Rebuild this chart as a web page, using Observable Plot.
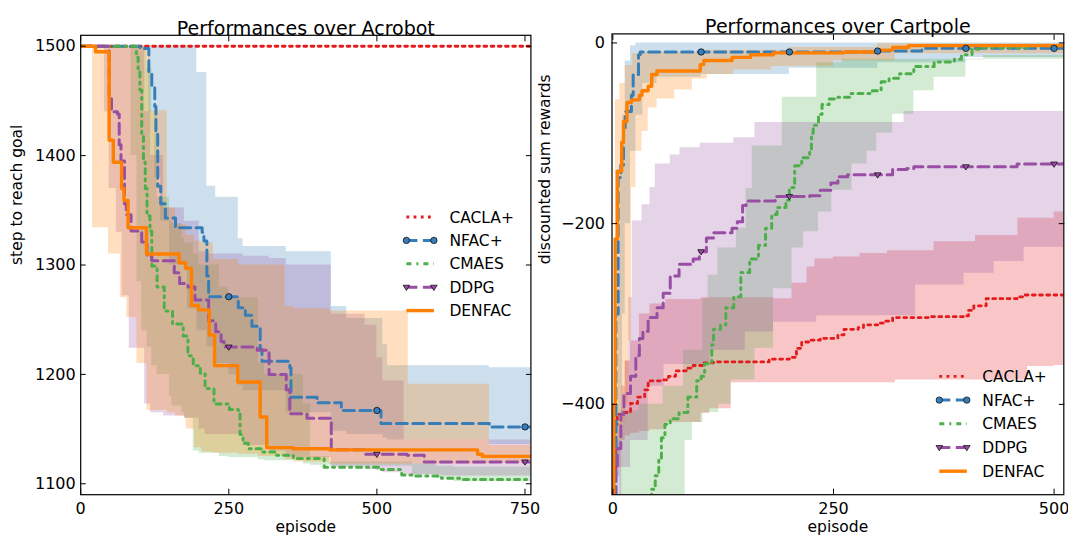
<!DOCTYPE html>
<html><head><meta charset="utf-8">
<script src="https://cdn.jsdelivr.net/npm/d3@7"></script>
<script src="https://cdn.jsdelivr.net/npm/@observablehq/plot@0.6"></script>
<style>
html,body{margin:0;padding:0;background:#fff;}
#wrap{display:flex;width:1068px;height:540px;background:#fff;}
#wrap svg{overflow:visible;}
</style></head><body><div id="wrap"></div>
<script>
// ================= DATA =================
const algoNames = ["CACLA+", "NFAC+", "CMAES", "DDPG", "DENFAC"];

// ---- Acrobot ----
const acroXTicks = [0, 250, 500, 750];
const acroYTicks = [1100, 1200, 1300, 1400, 1500];
const acroMarkerEpisodes = [250, 500, 750];

const acroCaclaX = [0, 760];
const acroCaclaY = [1500, 1500];

const acroNfacX = [0, 100, 115, 120, 125, 127, 130, 135, 143, 160, 205, 208, 213, 216, 266, 278, 289, 303, 306, 353, 355, 399, 440, 507, 690, 760];
const acroNfacY = [1500, 1498, 1475, 1462, 1445, 1420, 1372, 1356, 1343, 1334, 1330, 1322, 1290, 1271, 1261, 1254, 1244, 1223, 1212, 1206, 1179, 1174, 1167, 1155, 1152, 1152];
const acroNfacBandX = [0, 100, 115, 125, 135, 150, 180, 196, 213, 228, 250, 266, 274, 347, 423, 449, 510, 518, 690, 760];
const acroNfacHi = [1500, 1500, 1500, 1500, 1500, 1500, 1500, 1476, 1372, 1362, 1362, 1324, 1317, 1312, 1262, 1251, 1227, 1208, 1206, 1206];
const acroNfacLo = [1500, 1500, 1440, 1380, 1340, 1300, 1260, 1240, 1225, 1210, 1200, 1190, 1185, 1165, 1148, 1145, 1142, 1140, 1136, 1136];

const acroCmaesX = [0, 94, 97, 100, 103, 106, 109, 112, 117, 120, 129, 141, 155, 173, 181, 190, 202, 210, 225, 251, 266, 269, 274, 283, 306, 330, 359, 411, 504, 542, 562, 609, 644, 760];
const acroCmaesY = [1500, 1490, 1479, 1460, 1420, 1394, 1370, 1345, 1331, 1299, 1280, 1258, 1246, 1235, 1217, 1208, 1201, 1187, 1173, 1168, 1167, 1145, 1137, 1132, 1129, 1126, 1123, 1115, 1113, 1108, 1107, 1105, 1104, 1104];
const acroCmaesBandX = [0, 85, 95, 103, 112, 120, 129, 150, 154, 171, 175, 190, 200, 234, 250, 300, 310, 376, 388, 420, 560, 600, 630, 760];
const acroCmaesHi = [1500, 1500, 1500, 1500, 1480, 1440, 1362, 1340, 1338, 1325, 1320, 1310, 1300, 1280, 1270, 1210, 1200, 1173, 1125, 1120, 1118, 1116, 1115, 1115];
const acroCmaesLo = [1500, 1400, 1285, 1240, 1225, 1208, 1200, 1180, 1171, 1165, 1160, 1130, 1128, 1125, 1124, 1122, 1121, 1118, 1117, 1116, 1108, 1105, 1102, 1102];

const acroDdpgX = [0, 48, 52, 62, 65, 68, 74, 77, 85, 103, 112, 120, 158, 167, 181, 193, 216, 228, 237, 242, 298, 318, 347, 353, 382, 423, 481, 551, 580, 760];
const acroDdpgY = [1500, 1452, 1440, 1438, 1410, 1395, 1356, 1346, 1331, 1321, 1308, 1304, 1293, 1283, 1280, 1268, 1249, 1239, 1230, 1225, 1222, 1200, 1186, 1164, 1160, 1131, 1127, 1126, 1120, 1120];
const acroDdpgBandX = [0, 40, 48, 60, 70, 82, 108, 118, 140, 175, 200, 210, 274, 318, 347, 423, 480, 500, 510, 546, 610, 760];
const acroDdpgHi = [1500, 1500, 1500, 1500, 1500, 1500, 1440, 1400, 1352, 1340, 1312, 1310, 1308, 1306, 1300, 1255, 1245, 1215, 1194, 1140, 1140, 1140];
const acroDdpgLo = [1500, 1440, 1370, 1330, 1272, 1224, 1173, 1165, 1162, 1160, 1150, 1145, 1135, 1130, 1124, 1115, 1113, 1112, 1110, 1108, 1107, 1107];

const acroDenfacX = [0, 25, 48, 55, 69, 73, 80, 111, 166, 177, 187, 199, 217, 226, 265, 303, 314, 359, 420, 670, 678, 760];
const acroDenfacY = [1500, 1495, 1414, 1394, 1370, 1359, 1334, 1310, 1302, 1297, 1263, 1259, 1236, 1208, 1193, 1161, 1133, 1132, 1131, 1127, 1125, 1125];
const acroDenfacBandX = [0, 20, 47, 67, 78, 95, 112, 117, 146, 160, 178, 192, 204, 206, 224, 266, 300, 345, 360, 420, 553, 680, 690, 760];
const acroDenfacHi = [1500, 1500, 1500, 1500, 1500, 1500, 1500, 1441, 1352, 1337, 1327, 1322, 1320, 1320, 1305, 1300, 1300, 1262, 1260, 1258, 1191, 1191, 1135, 1135];
const acroDenfacLo = [1500, 1334, 1310, 1270, 1252, 1210, 1167, 1167, 1165, 1162, 1150, 1133, 1130, 1129, 1128, 1127, 1125, 1122, 1120, 1118, 1118, 1118, 1119, 1119];

// ---- Cartpole ----
const cartXTicks = [0, 250, 500];
const cartYTicks = [-400, -200, 0];
const cartMarkerEpisodes = [100, 200, 300, 400, 500];

const cartCaclaX = [0, 1.5, 3, 5, 12.5, 20, 28, 36, 40, 55, 63, 71, 83, 91, 102, 114, 177, 200, 208, 214, 223, 235, 255, 262, 278, 284, 302, 309, 317, 360, 399, 403, 409, 423, 458, 466, 511];
const cartCaclaY = [-500, -479, -422, -411, -409, -399, -392, -384, -374, -373, -369, -363, -360, -357, -354, -353, -350, -348, -338, -331, -329, -327, -323, -317, -315, -312, -310, -308, -304, -303, -302, -296, -291, -283, -281, -279, -277];
const cartCaclaBandX = [0, 5, 10, 14, 20, 30, 42, 60, 100, 110, 134, 182, 203, 220, 229, 250, 280, 311, 320, 364, 411, 459, 470, 500, 511];
const cartCaclaHi = [-500, -420, -380, -352, -330, -300, -289, -284, -282, -282, -282, -283, -266, -248, -239, -237, -233, -230, -230, -220, -213, -194, -194, -187, -187];
const cartCaclaLo = [-500, -470, -440, -435, -432, -430, -428, -420, -410, -405, -376, -376, -376, -376, -376, -376, -376, -376, -373, -373, -373, -373, -358, -357, -357];

const cartNfacX = [0, 3.5, 6, 9, 12, 14, 21, 23, 29, 31, 300, 350, 511];
const cartNfacY = [-500, -300, -149, -135, -98, -76, -58, -35, -13, -10, -9, -6, -6];
const cartNfacBandX = [0, 3, 6, 8, 11, 14, 20, 26, 34, 50, 100, 200, 300, 400, 511];
const cartNfacHi = [-500, -400, -250, -143, -80, -20, -3, 0, 0, 0, 0, 0, 0, 0, 0];
const cartNfacLo = [-500, -500, -480, -420, -300, -200, -120, -80, -45, -38, -35, -28, -22, -16, -14];

const cartCmaesX = [40, 44, 48, 52, 55, 59, 65, 75, 85, 95, 100, 104, 112, 114, 122, 128, 137, 145, 155, 165, 173, 180, 186, 196, 200, 206, 214, 223, 225, 227, 233, 237, 245, 255, 270, 294, 304, 313, 325, 341, 364, 387, 395, 407, 419, 470, 511];
const cartCmaesY = [-520, -494, -479, -460, -437, -422, -416, -409, -392, -374, -369, -355, -334, -317, -312, -293, -281, -254, -239, -224, -205, -190, -182, -174, -160, -136, -127, -121, -100, -91, -79, -68, -62, -60, -56, -53, -43, -39, -34, -26, -21, -18, -13, -7, -5, -3, -2];
const cartCmaesHiX = [0, 8, 30, 57, 80, 102, 108, 119, 140, 151, 158, 192, 231, 260, 511];
const cartCmaesHi = [-520, -407, -400, -380, -340, -283, -257, -227, -205, -161, -114, -60, -22, -18, -8];
const cartCmaesLoX = [0, 79, 82, 90, 102, 120, 134, 161, 182, 203, 216, 233, 248, 271, 288, 299, 317, 341, 364, 400, 420, 511];
const cartCmaesLo = [-520, -520, -440, -420, -409, -400, -373, -338, -272, -227, -209, -187, -163, -134, -120, -100, -79, -53, -38, -19, -14, -8];

const cartDdpgX = [0, 3, 5, 9, 12.5, 20, 26, 30, 34, 40, 50, 57, 65, 75, 91, 98, 106, 114, 135, 141, 147, 151, 184, 223, 235, 247, 255, 266, 317, 333, 341, 458, 511];
const cartDdpgY = [-500, -470, -449, -411, -388, -369, -346, -327, -319, -304, -293, -277, -258, -245, -239, -231, -216, -210, -205, -198, -180, -175, -170, -169, -163, -155, -148, -146, -140, -139, -137, -134, -133];
const cartDdpgHiX = [0, 5, 10, 14, 18, 22, 33, 42, 48, 65, 76, 99, 137, 161, 316, 330, 511];
const cartDdpgHi = [-500, -440, -404, -352, -282, -197, -179, -160, -134, -124, -116, -111, -105, -88, -88, -76, -72];
const cartDdpgLoX = [0, 10, 20, 40, 58, 110, 150, 182, 231, 343, 398, 432, 466, 511];
const cartDdpgLo = [-500, -470, -440, -380, -356, -340, -320, -309, -302, -268, -255, -242, -226, -224];

const cartDenfacX = [0, 1, 2.6, 5, 10, 12, 16, 21, 30, 33, 40, 44, 50, 99, 103, 135, 156, 182, 262, 302, 317, 335, 511];
const cartDenfacY = [-500, -400, -217, -142, -110, -87, -66, -63, -58, -53, -48, -35, -31, -24, -19.5, -16, -13, -11, -10, -8, -5, -3, -3];
const cartDenfacHiX = [0, 2, 3, 8, 14, 22, 30, 100, 200, 300, 511];
const cartDenfacHi = [-500, -300, -63, -45, -25, -12, -10, -8, -5, -1, 0];
const cartDenfacLoX = [0, 2, 3, 6, 10, 14, 18, 21, 26, 33, 40, 50, 70, 90, 107, 137, 180, 250, 320, 511];
const cartDenfacLo = [-500, -500, -480, -440, -420, -400, -330, -160, -120, -98, -72, -62, -52, -40, -35, -30, -26, -20, -12, -10];

// ================= HELPERS =================
function stepAt(xs, ys, x) {
  let v = ys[0];
  for (let i = 0; i < xs.length; i++) { if (xs[i] <= x) v = ys[i]; else break; }
  return v;
}
function lineRows(xs, ys) { return xs.map((x, i) => ({x, y: ys[i]})); }
function bandRows(xsHi, hi, xsLo, lo) {
  const xs = Array.from(new Set([...xsHi, ...xsLo])).sort((a, b) => a - b);
  return xs.map(x => ({x, hi: stepAt(xsHi, hi, x), lo: stepAt(xsLo, lo, x)}));
}

const styles = [
  {color: "#e41a1c", width: 2.8, dash: "2.8,4.4", marker: null},
  {color: "#377eb8", width: 3, dash: "11,5.5", marker: "circle"},
  {color: "#4daf4a", width: 3, dash: "5,5,2,5", marker: null},
  {color: "#984ea3", width: 3, dash: "11,5.5", marker: "triangle"},
  {color: "#ff7f00", width: 3.4, dash: null, marker: null}
];

const triangleDown = {
  draw(ctx, size) {
    const r = Math.sqrt(size / Math.PI), a = r * 1.1;
    ctx.moveTo(-a, -0.6 * a); ctx.lineTo(a, -0.6 * a); ctx.lineTo(0, a); ctx.closePath();
  }
};
function markerPath(kind, r) {
  if (kind === "circle") return d3.symbol(d3.symbolCircle, Math.PI * r * r)();
  const a = r * 1.1;
  return `M${-a},${-0.6 * a}L${a},${-0.6 * a}L0,${a}Z`;
}

function legendMark(rowTop, rowStep) {
  return (index, scales, values, dims) => {
    const right = dims.width - dims.marginRight;
    const x1 = right - 124, x2 = right - 96.5, xt = right - 81;
    const g = d3.create("svg:g").attr("font-family", "'DejaVu Sans', sans-serif")
      .attr("font-size", 15.5).attr("text-anchor", "start");
    algoNames.forEach((name, i) => {
      const st = styles[i], y = rowTop + i * rowStep;
      const ln = g.append("line").attr("x1", x1).attr("x2", x2).attr("y1", y).attr("y2", y)
        .attr("stroke", st.color).attr("stroke-width", st.width);
      if (st.dash) ln.attr("stroke-dasharray", st.dash);
      if (st.marker) for (const mx of [x1, x2]) {
        g.append("path").attr("d", markerPath(st.marker, st.marker === "circle" ? 3.2 : 3))
          .attr("transform", `translate(${mx},${y})`).attr("fill", st.color)
          .attr("stroke", "black").attr("stroke-width", 0.7);
      }
      g.append("text").attr("x", xt).attr("y", y).attr("dy", "0.36em")
        .attr("text-anchor", "start").attr("fill", "black").text(name);
    });
    return g.node();
  };
}

function makePanel(cfg) {
  const marks = [];
  cfg.series.forEach((s, i) => {
    if (s.band) marks.push(Plot.areaY(s.band, {x: "x", y1: "lo", y2: "hi", curve: "step-after",
      fill: styles[i].color, fillOpacity: 0.25, clip: true}));
  });
  cfg.series.forEach((s, i) => {
    const st = styles[i];
    const opts = {x: "x", y: "y", curve: "step-after", stroke: st.color, strokeWidth: st.width, clip: true};
    if (st.dash) opts.strokeDasharray = st.dash;
    marks.push(Plot.line(s.line, opts));
  });
  cfg.series.forEach((s, i) => {
    const st = styles[i];
    if (!st.marker) return;
    const pts = cfg.markerEpisodes.map(e => ({x: e, y: stepAt(s.lineX, s.lineY, e)}));
    marks.push(Plot.dot(pts, {x: "x", y: "y", r: st.marker === "circle" ? 3.2 : 3,
      symbol: st.marker === "circle" ? "circle" : triangleDown,
      fill: st.color, stroke: "black", strokeWidth: 0.7}));
  });
  marks.push(
    Plot.axisX(cfg.xTicks, {anchor: "bottom", tickSize: -5.5, tickPadding: 13.5, fontSize: 16, label: null, tickFormat: d3.format("d"), stroke: "black", fill: "black"}),
    Plot.axisX(cfg.xTicks, {anchor: "top", tickSize: -5.5, tickFormat: () => "", label: null, stroke: "black"}),
    Plot.axisY(cfg.yTicks, {anchor: "left", tickSize: -5.5, tickPadding: cfg.yPad + 5.5, fontSize: 16, label: null, tickFormat: d3.format("d"), stroke: "black", fill: "black"}),
    Plot.axisY(cfg.yTicks, {anchor: "right", tickSize: -5.5, tickFormat: () => "", label: null, stroke: "black"}),
    Plot.frame({stroke: "black", strokeWidth: 1.2}),
    Plot.text([cfg.title], {text: d => d, frameAnchor: "top", dy: -14, fontSize: 19, fill: "black"}),
    Plot.text([cfg.ylabel], {text: d => d, frameAnchor: "left", rotate: -90, dx: cfg.ylabelDx, fontSize: 15.5, fill: "black"}),
    Plot.text(["episode"], {text: d => d, frameAnchor: "bottom", dy: 37, fontSize: 15.5, fill: "black"}),
    legendMark(cfg.legendTop, cfg.legendStep)
  );
  return Plot.plot({
    width: 534, height: 540,
    marginLeft: cfg.margins[0], marginRight: cfg.margins[1], marginTop: cfg.margins[2], marginBottom: cfg.margins[3],
    x: {domain: cfg.xDomain},
    y: {domain: cfg.yDomain},
    style: {fontFamily: "'DejaVu Sans', sans-serif", fontSize: "16px", color: "black", background: "transparent", overflow: "visible"},
    marks
  });
}

function seriesOf(lx, ly, bxh, bh, bxl, bl) {
  return {lineX: lx, lineY: ly, line: lineRows(lx, ly), band: bh ? bandRows(bxh, bh, bxl, bl) : null};
}

const acroSeries = [
  seriesOf(acroCaclaX, acroCaclaY, null, null, null, null),
  seriesOf(acroNfacX, acroNfacY, acroNfacBandX, acroNfacHi, acroNfacBandX, acroNfacLo),
  seriesOf(acroCmaesX, acroCmaesY, acroCmaesBandX, acroCmaesHi, acroCmaesBandX, acroCmaesLo),
  seriesOf(acroDdpgX, acroDdpgY, acroDdpgBandX, acroDdpgHi, acroDdpgBandX, acroDdpgLo),
  seriesOf(acroDenfacX, acroDenfacY, acroDenfacBandX, acroDenfacHi, acroDenfacBandX, acroDenfacLo)
];
const cartSeries = [
  seriesOf(cartCaclaX, cartCaclaY, cartCaclaBandX, cartCaclaHi, cartCaclaBandX, cartCaclaLo),
  seriesOf(cartNfacX, cartNfacY, cartNfacBandX, cartNfacHi, cartNfacBandX, cartNfacLo),
  seriesOf(cartCmaesX, cartCmaesY, cartCmaesHiX, cartCmaesHi, cartCmaesLoX, cartCmaesLo),
  seriesOf(cartDdpgX, cartDdpgY, cartDdpgHiX, cartDdpgHi, cartDdpgLoX, cartDdpgLo),
  seriesOf(cartDenfacX, cartDenfacY, cartDenfacHiX, cartDenfacHi, cartDenfacLoX, cartDenfacLo)
];

const wrap = document.getElementById("wrap");
wrap.append(makePanel({
  title: "Performances over Acrobot", ylabel: "step to reach goal", ylabelDx: -63.8,
  xDomain: [0, 760], yDomain: [1090, 1510], xTicks: acroXTicks, yTicks: acroYTicks,
  markerEpisodes: acroMarkerEpisodes, series: acroSeries,
  margins: [80.2, 3.6, 34.8, 45.8], yPad: 5, legendTop: 217, legendStep: 23.4
}));
wrap.append(makePanel({
  title: "Performances over Cartpole", ylabel: "discounted sum rewards", ylabelDx: -66.7,
  xDomain: [-1, 511], yDomain: [-500, 10], xTicks: cartXTicks, yTicks: cartYTicks,
  markerEpisodes: cartMarkerEpisodes, series: cartSeries,
  margins: [77.5, 4.7, 33.4, 45.8], yPad: 7, legendTop: 376.4, legendStep: 23.7
}));
</script></body></html>
